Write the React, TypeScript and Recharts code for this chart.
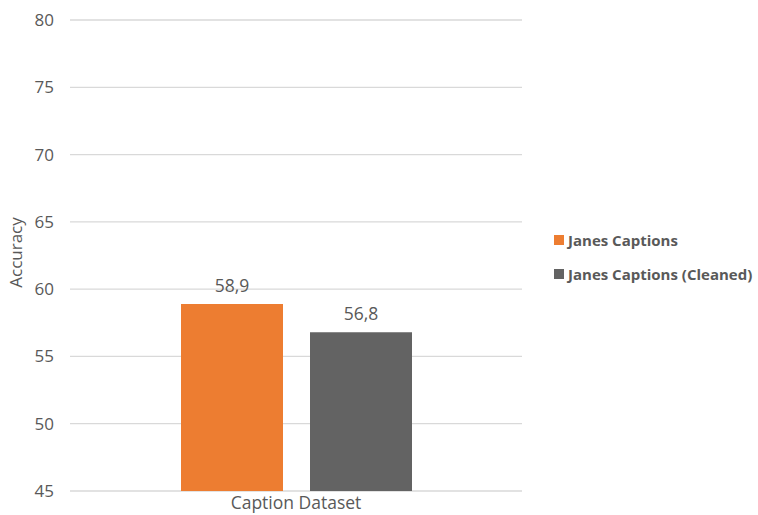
import React from 'react';
import { BarChart, Bar, XAxis, YAxis, CartesianGrid, LabelList, Legend } from 'recharts';

// Accuracy per caption variant on the single caption dataset
const categories = ['Caption Dataset'];
const janesCaptions = [58.9];
const janesCaptionsCleaned = [56.8];
const yTicks = [45, 50, 55, 60, 65, 70, 75, 80];

const seriesDefs = [
  { key: 'janes', name: 'Janes Captions', color: '#ED7D31', values: janesCaptions },
  { key: 'cleaned', name: 'Janes Captions (Cleaned)', color: '#636363', values: janesCaptionsCleaned },
];

const rows = categories.map((c, i) => {
  const row: Record<string, string | number> = { category: c };
  seriesDefs.forEach((s) => {
    row[s.key] = s.values[i];
  });
  return row;
});

const FONT = '"Open Sans", "Noto Sans", sans-serif';
const TEXT = '#595959';

const commaDecimal = (v: number | string) => String(v).replace('.', ',');

const LegendBlock = () => (
  <div style={{ fontFamily: FONT }}>
    {seriesDefs.map((s) => (
      <div
        key={s.key}
        style={{ display: 'flex', alignItems: 'center', height: 34, fontSize: 15, fontWeight: 700, color: TEXT, whiteSpace: 'nowrap' }}
      >
        <span style={{ display: 'inline-block', width: 10, height: 10, background: s.color, marginRight: 4, flexShrink: 0 }} />
        <span>{s.name}</span>
      </div>
    ))}
  </div>
);

export default function App() {
  return (
    <div style={{ position: 'absolute', left: 0, top: 0, width: 758, height: 515, background: '#fff' }}>
      <BarChart
        width={758}
        height={515}
        data={rows}
        margin={{ top: 20, right: 236, left: 0, bottom: 0 }}
        barCategoryGap={111}
        barGap={27}
      >
        <CartesianGrid horizontal vertical={false} stroke="#D9D9D9" strokeWidth={1.3} />
        <XAxis
          dataKey="category"
          height={24}
          axisLine={false}
          tickLine={false}
          tickSize={0}
          tickMargin={6}
          tick={{ fill: TEXT, fontSize: 17.5, fontFamily: FONT }}
        />
        <YAxis
          width={70}
          domain={[45, 80]}
          ticks={yTicks}
          interval={0}
          axisLine={false}
          tickLine={false}
          tickSize={0}
          tickMargin={16}
          tick={{ fill: TEXT, fontSize: 17, fontFamily: FONT }}
          label={{
            value: 'Accuracy',
            angle: -90,
            position: 'insideLeft',
            dx: 11,
            dy: -3,
            style: { fill: TEXT, fontSize: 17, fontFamily: FONT, textAnchor: 'middle' },
          }}
        />
        <Legend
          layout="vertical"
          align="center"
          verticalAlign="middle"
          wrapperStyle={{ left: 554, top: 223, width: 204 }}
          content={() => <LegendBlock />}
        />
        {seriesDefs.map((s) => (
          <Bar key={s.key} dataKey={s.key} name={s.name} fill={s.color} isAnimationActive={false}>
            <LabelList
              dataKey={s.key}
              position="top"
              offset={12}
              formatter={commaDecimal}
              style={{ fill: TEXT, fontSize: 17.5, fontFamily: FONT }}
            />
          </Bar>
        ))}
      </BarChart>
    </div>
  );
}
